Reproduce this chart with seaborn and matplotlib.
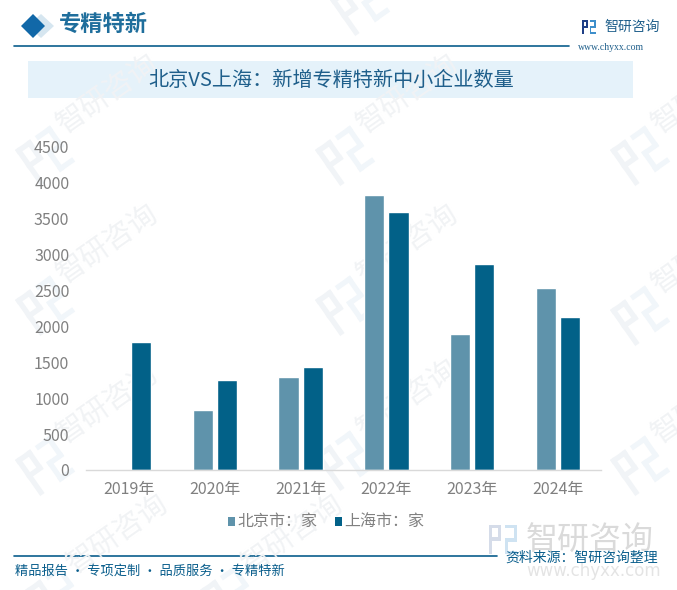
import numpy as np
import pandas as pd
import matplotlib
matplotlib.use("Agg")
import matplotlib.pyplot as plt
from matplotlib.patches import Polygon, Rectangle
import seaborn as sns

years = ["2019年", "2020年", "2021年", "2022年", "2023年", "2024年"]
beijing = [np.nan, 830, 1300, 3830, 1900, 2530]
shanghai = [1780, 1250, 1430, 3590, 2870, 2130]
series_names = ["北京市：家", "上海市：家"]
colors = ["#5F93AB", "#026188"]
y_ticks = [0, 500, 1000, 1500, 2000, 2500, 3000, 3500, 4000, 4500]

sns.set_theme(style="white")
plt.rcParams["font.family"] = ["Noto Sans CJK SC", "DejaVu Sans"]

W, H = 677, 590
fig = plt.figure(figsize=(W / 100, H / 100), dpi=100, facecolor="white")

def fx(x): return x / W
def fy(y): return 1 - y / H

# background layer (pixel coordinates, y down)
bg = fig.add_axes([0, 0, 1, 1], zorder=0)
bg.set_xlim(0, W); bg.set_ylim(H, 0); bg.axis("off")

def logo(ax, x, y, s, c1, c2, rot=0):
    t = matplotlib.transforms.Affine2D().rotate_deg_around(x, y, rot) + ax.transData
    ax.add_patch(Rectangle((x, y), s * .42, s * .12, color=c1, transform=t, lw=0))
    ax.add_patch(Rectangle((x, y), s * .12, s, color=c1, transform=t, lw=0))
    ax.add_patch(Rectangle((x + s * .3, y), s * .12, s * .5, color=c1, transform=t, lw=0))
    ax.add_patch(Rectangle((x, y + s * .42), s * .42, s * .12, color=c1, transform=t, lw=0))
    ax.add_patch(Rectangle((x + s * .55, y), s * .42, s * .12, color=c2, transform=t, lw=0))
    ax.add_patch(Rectangle((x + s * .85, y), s * .12, s * .55, color=c2, transform=t, lw=0))
    ax.add_patch(Rectangle((x + s * .55, y + s * .45), s * .42, s * .12, color=c2, transform=t, lw=0))
    ax.add_patch(Rectangle((x + s * .55, y + s * .45), s * .12, s * .55, color=c2, transform=t, lw=0))
    ax.add_patch(Rectangle((x + s * .55, y + s * .88), s * .42, s * .12, color=c2, transform=t, lw=0))

# watermarks
wm_pos = [(15, 150), (315, 150), (610, 150), (15, 300), (315, 300), (610, 310),
          (15, 460), (315, 455), (610, 460), (330, 0), (25, 590), (200, 590)]
for x, y in wm_pos:
    logo(bg, x, y, 44, "#F1F4F7", "#F1F6FA", rot=-35)
    bg.text(x + 45, y - 22, "智研咨询", fontsize=21, color="#F1F3F5", rotation=35,
            rotation_mode="anchor", ha="left", va="center")

# header
bg.add_patch(Polygon([[28, 26], [41, 14], [54, 26], [41, 38]], color="#D6E6F0", lw=0))
bg.add_patch(Polygon([[21, 26], [33, 14], [45, 26], [33, 38]], color="#1168A8", lw=0))
bg.text(59, 24.5, "专精特新", fontsize=16, fontweight="bold", color="#1F6E9C",
        family=["Noto Sans CJK SC"], ha="left", va="center")
bg.plot([14, 569], [46, 46], color="#0A5E8C", lw=1.2)
logo(bg, 582, 20, 14, "#1F3F86", "#3E8FCB")
bg.text(604, 26.5, "智研咨询", fontsize=10, color="#1F5F8B", ha="left", va="center")
bg.text(578, 47, "www.chyxx.com", fontsize=7, color="#1F5F8B", family=["Liberation Serif"],
        ha="left", va="center")

# title strip
bg.add_patch(Rectangle((28, 61), 605, 37, color="#E5F2FA", lw=0))
bg.text(331, 80.5, "北京VS上海：新增专精特新中小企业数量", fontsize=14.5, color="#1F5F8B",
        ha="center", va="center")

# footer
logo(bg, 489, 525, 29, "#D5DCE9", "#CFE3F2")
bg.text(526, 540, "智研咨询", fontsize=23, color="#DADADA", ha="left", va="center")
bg.text(526, 571, "www.chyxx.com", fontsize=12, color="#E4E4E4", ha="left", va="center",
        family=["DejaVu Sans"])
bg.plot([14, 497], [556, 556], color="#0A5E8C", lw=1.2)
bg.text(658, 557.5, "资料来源：智研咨询整理", fontsize=10, color="#0A5E8C", ha="right", va="center")
bg.text(15, 571, "精品报告 · 专项定制 · 品质服务 · 专精特新", fontsize=9.5, color="#0A5E8C",
        ha="left", va="center")

# chart
df = pd.DataFrame({
    "year": years * 2,
    "value": beijing + shanghai,
    "series": [series_names[0]] * len(years) + [series_names[1]] * len(years),
})
ax = fig.add_axes([fx(86), fy(470), (601 - 86) / W, (470 - 147) / H], zorder=1)
ax.patch.set_alpha(0)
sns.barplot(data=df, x="year", y="value", hue="series", palette=colors, ax=ax,
            width=0.56, gap=0.16, saturation=1, legend=False, errorbar=None)
ax.set_xlim(-0.5, 5.5)
ax.set_ylim(0, 4500)
ax.set_yticks(y_ticks)
ax.set_xlabel(""); ax.set_ylabel("")
ax.tick_params(axis="both", length=0, labelsize=11.5, labelcolor="#808080", pad=12)
ax.tick_params(axis="x", pad=8)
for s in ["top", "right", "left"]:
    ax.spines[s].set_visible(False)
ax.spines["bottom"].set_color("#D9D9D9")
ax.spines["bottom"].set_linewidth(1.0)

# legend
for x0, c, name in zip([228, 335], colors, series_names):
    bg.add_patch(Rectangle((x0, 516.5), 7, 9, color=c, lw=0))
    bg.text(x0 + 9, 521, name, fontsize=11.5, color="#808080", ha="left", va="center")

fig.savefig("out.png", dpi=100, facecolor="white")
